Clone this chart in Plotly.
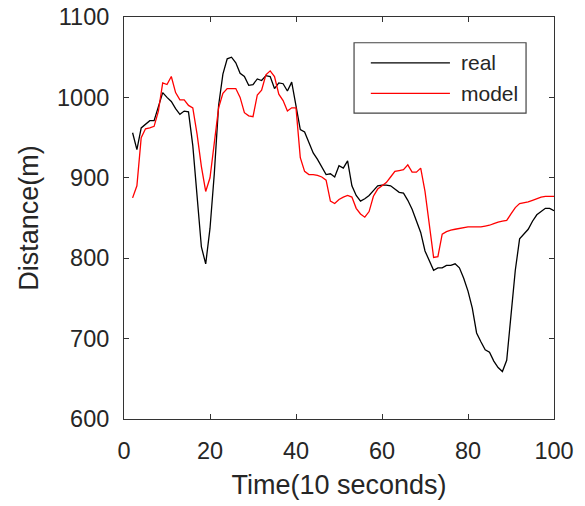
import plotly.graph_objects as go

time = list(range(2, 101))

real = [956, 935, 962, 966, 971, 971, 988, 1006, 1000, 995,
        986, 979, 983, 982, 940, 880, 814, 793, 837, 905,
        990, 1029, 1048, 1050, 1043, 1030, 1026, 1015, 1016, 1023,
        1021, 1027, 1026, 1011, 1018, 1017, 1008, 1019, 990, 960,
        957, 943, 931, 923, 913, 904, 905, 901, 915, 912,
        921, 890, 878, 871, 874, 878, 884, 890, 891, 891,
        890, 886, 882, 881, 872, 861, 847, 832, 809, 798,
        785, 788, 788, 791, 791, 793, 788, 775, 759, 738,
        707, 696, 686, 683, 672, 664, 659, 673, 725, 785,
        824, 830, 836, 846, 854, 858, 862, 862, 859]

model = [875, 890, 950, 961, 962, 964, 983, 1018, 1016, 1026,
         1006, 997, 997, 990, 987, 954, 914, 883, 900, 943,
         987, 1005, 1011, 1011, 1011, 1000, 981, 977, 976, 1003,
         1009, 1028, 1033, 1026, 1004, 996, 983, 987, 987, 925,
         908, 904, 904, 903, 901, 897, 871, 868, 873, 876,
         878, 876, 862, 855, 851, 858, 877, 886, 890, 894,
         901, 908, 909, 910, 916, 907, 907, 912, 883, 842,
         801, 802, 830, 833, 835, 836, 837, 838, 839, 839,
         839, 839, 840, 841, 843, 845, 846, 847, 855, 863,
         868, 869, 870, 872, 874, 876, 877, 877, 877]

x_ticks = [0, 20, 40, 60, 80, 100]
y_ticks = [600, 700, 800, 900, 1000, 1100]
series_names = ["real", "model"]
series_colors = ["black", "red"]

fig = go.Figure()
for name, vals, col in zip(series_names, [real, model], series_colors):
    fig.add_trace(go.Scatter(x=time, y=vals, mode="lines", name=name,
                             line=dict(color=col, width=1.3), showlegend=False))

font = "Liberation Sans, Arial, sans-serif"
txt = "#262626"
axis_common = dict(showgrid=False, zeroline=False, showline=True, linecolor="#333",
                   linewidth=1, mirror="ticks", ticks="inside", ticklen=5, automargin=False,
                   tickcolor="#333", tickfont=dict(family=font, size=23.5, color=txt))

fig.update_xaxes(range=[0, 100], tickvals=x_ticks, ticklabelstandoff=11,
                 title=dict(text="Time(10 seconds)", font=dict(family=font, size=27, color=txt), standoff=11),
                 **axis_common)
fig.update_yaxes(range=[600, 1100], tickvals=y_ticks, ticklabelstandoff=9,
                 title=dict(text="Distance(m)", font=dict(family=font, size=27, color=txt), standoff=10),
                 **axis_common)

# custom legend box
fig.add_shape(type="rect", xref="paper", yref="paper", x0=0.535, x1=0.935, y0=0.761, y1=0.936,
              line=dict(color="#444", width=1.2), fillcolor="white", layer="above")
legend_y = [0.886, 0.810]
for name, col, yy in zip(series_names, series_colors, legend_y):
    fig.add_shape(type="line", xref="paper", yref="paper", x0=0.574, x1=0.758, y0=yy, y1=yy,
                  line=dict(color=col, width=1.3), layer="above")
    fig.add_annotation(xref="paper", yref="paper", x=0.778, y=yy, text=name, showarrow=False,
                       xanchor="left", yanchor="middle", font=dict(family=font, size=21, color=txt))

fig.update_layout(width=585, height=506, plot_bgcolor="white", paper_bgcolor="white",
                  margin=dict(l=124, r=31, t=17, b=87))

fig.write_html("out.html")
